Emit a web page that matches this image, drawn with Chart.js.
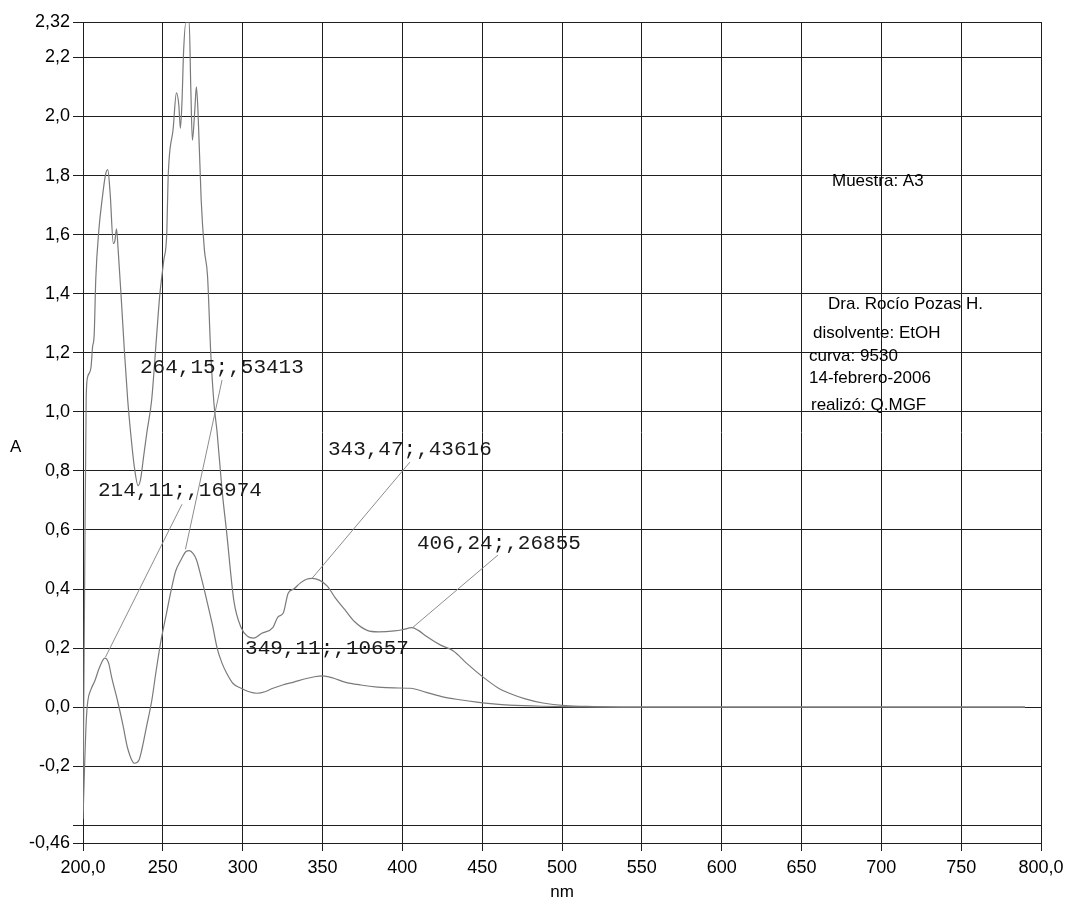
<!DOCTYPE html>
<html>
<head>
<meta charset="utf-8">
<script src="https://cdn.jsdelivr.net/npm/chart.js@4"></script>
<style>
  body { margin: 0; background: #fff; }
  canvas { display: block; }
</style>
</head>
<body>
<canvas id="uvChart" width="1089" height="905"></canvas>
<script>
// muestra A3 - espectro UV (dos curvas)
var wlA = [200, 201, 202, 203, 205, 206, 207, 208, 210, 212, 214, 215.5, 217, 219, 220, 221, 222, 224, 226, 228,
           230, 232, 234.5, 236, 238, 240, 243, 246, 248, 250.5, 252.5, 253.3, 256.5, 258.5, 260, 261, 262, 263, 264.5, 266.5,
           267.5, 268.5, 270, 271, 272, 274, 276, 278, 280, 282, 284, 287, 290, 294.5, 299, 303, 307, 312, 319, 322,
           325.5, 328.5, 332, 336, 340, 343.5, 348, 353, 358, 364, 370, 378, 385, 395, 400, 406, 410, 415, 424, 432,
           440, 451, 460, 467, 477, 488, 502, 520, 550, 600, 700, 790];
var absA = [-0.35, 0.4, 1.05, 1.12, 1.15, 1.22, 1.26, 1.45, 1.62, 1.72, 1.80, 1.82, 1.74, 1.57, 1.58, 1.62, 1.55, 1.38, 1.2, 1.04,
            0.92, 0.82, 0.75, 0.77, 0.85, 0.93, 1.04, 1.25, 1.39, 1.51, 1.61, 1.79, 1.96, 2.08, 2.04, 1.96, 2.05, 2.22, 2.32, 2.32,
            2.1, 1.92, 2.02, 2.1, 2.02, 1.72, 1.55, 1.46, 1.2, 1.03, 0.93, 0.74, 0.59, 0.36, 0.27, 0.24, 0.234, 0.25, 0.27, 0.305,
            0.32, 0.386, 0.40, 0.42, 0.433, 0.436, 0.43, 0.41, 0.37, 0.33, 0.29, 0.26, 0.255, 0.258, 0.262, 0.269, 0.26, 0.24, 0.21, 0.19,
            0.15, 0.10, 0.065, 0.047, 0.028, 0.014, 0.005, 0.002, 0, 0, 0, 0];

var wlB = [200, 201, 202, 203, 205, 207.5, 210, 213.7, 216, 218, 221.7, 225, 228, 232.3, 235, 237, 240, 243, 246, 249,
           252, 255, 258, 261.5, 264.5, 266.5, 269, 271, 274, 277.6, 281, 284, 287, 290, 294, 299, 304, 309, 314, 319,
           325, 332, 340, 345, 350, 357, 364, 374, 384.5, 395, 405, 415, 426, 436, 446.6, 457, 467, 488, 510, 540,
           600, 700, 790];
var absB = [-0.38, -0.2, -0.05, 0.02, 0.06, 0.09, 0.13, 0.166, 0.15, 0.1, 0.02, -0.06, -0.14, -0.19, -0.18, -0.14, -0.06, 0.02, 0.13, 0.23,
            0.31, 0.39, 0.46, 0.50, 0.527, 0.53, 0.52, 0.50, 0.44, 0.36, 0.28, 0.20, 0.15, 0.115, 0.08, 0.064, 0.052, 0.047, 0.052, 0.064,
            0.075, 0.085, 0.097, 0.103, 0.106, 0.098, 0.085, 0.075, 0.068, 0.065, 0.064, 0.05, 0.034, 0.025, 0.017, 0.011, 0.007, 0.003, 0.001, 0,
            0, 0, 0];

// picos marcados
var peakNm  = [264.15, 214.11, 343.47, 406.24, 349.11];
var peakAbs = [0.53413, 0.16974, 0.43616, 0.26855, 0.10657];

var xTicks = [200, 250, 300, 350, 400, 450, 500, 550, 600, 650, 700, 750, 800];
var xTickLabels = ['200,0', '250', '300', '350', '400', '450', '500', '550', '600', '650', '700', '750', '800,0'];
var yTicks = [-0.46, -0.4, -0.2, 0, 0.2, 0.4, 0.6, 0.8, 1.0, 1.2, 1.4, 1.6, 1.8, 2.0, 2.2, 2.32];
var yTickLabels = ['-0,46', '', '-0,2', '0,0', '0,2', '0,4', '0,6', '0,8', '1,0', '1,2', '1,4', '1,6', '1,8', '2,0', '2,2', '2,32'];

var infoLines = ['Muestra: A3', 'Dra. Rocío Pozas H.', 'disolvente: EtOH', 'curva: 9530', '14-febrero-2006', 'realizó: Q.MGF'];

// posiciones (en unidades de datos) de las etiquetas de picos y del inicio de sus lineas
var labelAt  = [[235.7, 1.152], [209.4, 0.735], [353.4, 0.874], [409.2, 0.556], [301.5, 0.200]];
var leaderAt = [[287.1, 1.108], [262.0, 0.687], [404.8, 0.830], [459.9, 0.515], null];
var infoAt   = [[832, 181], [828, 304], [813, 333], [809, 356], [809, 378], [811, 405]];

function toPoints(xs, ys) {
  var pts = [];
  for (var i = 0; i < xs.length; i++) pts.push({ x: xs[i], y: ys[i] });
  return pts;
}

function peakText(i) {
  return peakNm[i].toFixed(2).replace('.', ',') + ';,' + peakAbs[i].toFixed(5).slice(2);
}

var notesPlugin = {
  id: 'notes',
  afterDatasetsDraw: function(chart) {
    var ctx = chart.ctx;
    var sx = chart.scales.x, sy = chart.scales.y;
    ctx.save();
    ctx.strokeStyle = '#8c8c8c';
    ctx.lineWidth = 1;
    for (var i = 0; i < peakNm.length; i++) {
      if (!leaderAt[i]) continue;
      ctx.beginPath();
      ctx.moveTo(sx.getPixelForValue(leaderAt[i][0]), sy.getPixelForValue(leaderAt[i][1]));
      ctx.lineTo(sx.getPixelForValue(peakNm[i]), sy.getPixelForValue(peakAbs[i]));
      ctx.stroke();
    }
    ctx.fillStyle = '#1a1a1a';
    ctx.textBaseline = 'middle';
    ctx.textAlign = 'left';
    ctx.font = '21px "Liberation Mono", "Courier New", monospace';
    for (var j = 0; j < peakNm.length; j++) {
      ctx.fillText(peakText(j), sx.getPixelForValue(labelAt[j][0]), sy.getPixelForValue(labelAt[j][1]));
    }
    ctx.fillStyle = '#000';
    ctx.font = '17px "Liberation Sans", Arial, sans-serif';
    for (var k = 0; k < infoLines.length; k++) {
      ctx.fillText(infoLines[k], infoAt[k][0], infoAt[k][1]);
    }
    ctx.fillText('A', 10, 447);
    ctx.restore();
  }
};

var ctx = document.getElementById('uvChart').getContext('2d');

var options = {
  responsive: false,
  maintainAspectRatio: false,
  animation: false,
  layout: { padding: { top: 22, right: 48, left: 0, bottom: 0 } },
  plugins: { legend: { display: false }, tooltip: { enabled: false } },
  elements: { point: { radius: 0 } },
  scales: {
    x: {
      type: 'linear',
      min: 200,
      max: 800,
      afterBuildTicks: function(scale) {
        scale.ticks = xTicks.map(function(v) { return { value: v }; });
      },
      afterFit: function(scale) { scale.height = 62; },
      ticks: {
        autoSkip: false,
        maxRotation: 0,
        padding: 6,
        color: '#000',
        font: { family: '"Liberation Sans", Arial, sans-serif', size: 18 },
        callback: function(value, index) { return xTickLabels[index]; }
      },
      grid: { color: '#1e1e1e', lineWidth: 1, tickLength: 8 },
      border: { color: '#1e1e1e' },
      title: {
        display: true,
        text: 'nm',
        color: '#000',
        padding: { top: 0, bottom: 2 },
        font: { family: '"Liberation Sans", Arial, sans-serif', size: 17 }
      }
    },
    y: {
      type: 'linear',
      min: -0.46,
      max: 2.32,
      afterBuildTicks: function(scale) {
        scale.ticks = yTicks.map(function(v) { return { value: v }; });
      },
      afterFit: function(scale) { scale.width = 83; },
      ticks: {
        autoSkip: false,
        padding: 3,
        color: '#000',
        font: { family: '"Liberation Sans", Arial, sans-serif', size: 18 },
        callback: function(value, index) { return yTickLabels[index]; }
      },
      grid: { color: '#1e1e1e', lineWidth: 1, tickLength: 10 },
      border: { color: '#1e1e1e' }
    }
  }
};

var uvChart = new Chart(ctx, {
  type: 'line',
  data: {
    datasets: [{
      label: 'curva 1',
      data: toPoints(wlA, absA),
      borderColor: '#7a7a7a',
      borderWidth: 1.2,
      fill: false,
      cubicInterpolationMode: 'monotone',
      clip: 0
    }, {
      label: 'curva 2',
      data: toPoints(wlB, absB),
      borderColor: '#7a7a7a',
      borderWidth: 1.2,
      fill: false,
      cubicInterpolationMode: 'monotone',
      clip: 0
    }]
  },
  options: options,
  plugins: [notesPlugin]
});
</script>
</body>
</html>
